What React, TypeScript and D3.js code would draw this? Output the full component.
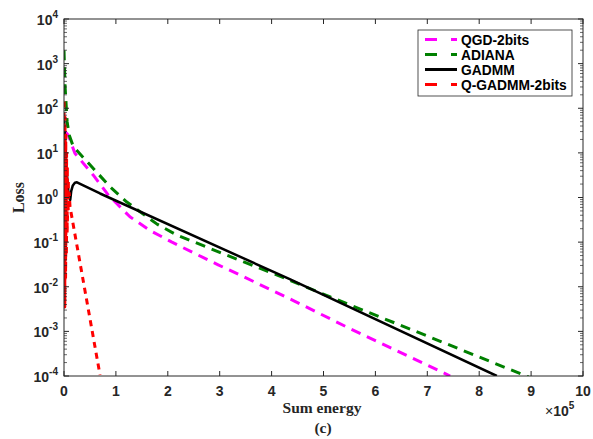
import React from "react";
import * as d3 from "d3";

// x in units of 1e5 (Sum energy), y = Loss
const qgdX = [0.02, 0.08, 0.21, 0.565, 0.855, 1.27, 1.66, 2.08, 2.53, 2.97, 3.43, 4.42, 5.5, 7.44];
const qgdY = [30, 25.1, 9.8, 3.16, 1.13, 0.37, 0.182, 0.1, 0.055, 0.031, 0.0174, 0.0049, 0.00117, 0.0001];

const adianaX = [0, 0.02, 0.06, 0.1, 0.18, 0.5, 0.887, 1.21, 1.465, 1.8, 2.17, 3.0, 4.26, 5.13, 7.25, 8.95];
const adianaY = [2000, 316, 50, 25, 13.8, 5.4, 1.74, 0.79, 0.48, 0.25, 0.145, 0.059, 0.0155, 0.0059, 0.0006, 0.000095];

const gadmmX = [0, 0.02, 0.05, 0.09, 0.12, 0.14, 0.17, 0.21, 0.25, 0.694, 4.36, 8.34];
const gadmmY = [60, 20, 3.98, 1.12, 0.89, 1.41, 1.86, 2.14, 2.19, 1.23, 0.0146, 0.0001];

const qgadmmX = [0, 0.01, 0.02, 0.015, 0.035, 0.03, 0.05, 0.045, 0.065, 0.06, 0.085, 0.08, 0.1, 0.116, 0.694];
const qgadmmY = [141, 0.01, 63, 0.0035, 25, 0.016, 10, 0.05, 5, 0.16, 2.5, 0.5, 1.26, 0.62, 0.000105];

const xTicks = [0, 1, 2, 3, 4, 5, 6, 7, 8, 9, 10];
const yExponents = [-4, -3, -2, -1, 0, 1, 2, 3, 4];

const seriesNames = ["QGD-2bits", "ADIANA", "GADMM", "Q-GADMM-2bits"];
const seriesColors = ["#ff00ff", "#008000", "#000000", "#ff0000"];
const seriesDash = ["10 7", "10 7", "none", "6 5"];

const W = 593;
const H = 439;
const L = 64;
const R = 583;
const T = 19;
const B = 376;
const axisColor = "#262626";
const sansFont = "'Liberation Sans', Arial, Helvetica, sans-serif";
const serifFont = "'Liberation Serif', 'Times New Roman', serif";

export default function App() {
  const x = d3.scaleLinear().domain([0, 10]).range([L, R]);
  const y = d3.scaleLog().domain([1e-4, 1e4]).range([B, T]);
  const line = d3
    .line<[number, number]>()
    .x((d) => x(d[0]))
    .y((d) => y(d[1]));

  const series = [
    d3.zip(qgdX, qgdY) as [number, number][],
    d3.zip(adianaX, adianaY) as [number, number][],
    d3.zip(gadmmX, gadmmY) as [number, number][],
    d3.zip(qgadmmX, qgadmmY) as [number, number][],
  ];

  const minorTicks: number[] = [];
  yExponents.slice(0, -1).forEach((e) => {
    for (let k = 2; k <= 9; k++) minorTicks.push(k * Math.pow(10, e));
  });

  const legX = 418;
  const legY = 30;
  const legW = 154;
  const legH = 66;

  return (
    <svg width={W} height={H} style={{ display: "block", position: "absolute", left: 0, top: 0 }}>
      <rect width={W} height={H} fill="#fff" />
      <defs>
        <clipPath id="plotClip">
          <rect x={L} y={T} width={R - L} height={B - T} />
        </clipPath>
      </defs>

      {/* series */}
      <g clipPath="url(#plotClip)">
        {series.map((s, i) => (
          <path
            key={i}
            d={line(s) || ""}
            fill="none"
            stroke={seriesColors[i]}
            strokeWidth={i === 2 ? 2.5 : 3}
            strokeDasharray={seriesDash[i]}
            strokeLinejoin="round"
          />
        ))}
      </g>

      {/* axes box */}
      <rect x={L} y={T} width={R - L} height={B - T} fill="none" stroke={axisColor} strokeWidth={1} />

      {/* x ticks */}
      {xTicks.map((t) => (
        <g key={"xt" + t}>
          <line x1={x(t)} x2={x(t)} y1={B} y2={B - 5} stroke={axisColor} />
          <line x1={x(t)} x2={x(t)} y1={T} y2={T + 5} stroke={axisColor} />
          <text
            x={x(t)}
            y={B + 20}
            textAnchor="middle"
            fontFamily={sansFont}
            fontWeight="bold"
            fontSize={14}
            fill={axisColor}
          >
            {t}
          </text>
        </g>
      ))}

      {/* y ticks */}
      {yExponents.map((e) => {
        const v = Math.pow(10, e);
        return (
          <g key={"yt" + e}>
            <line x1={L} x2={L + 5} y1={y(v)} y2={y(v)} stroke={axisColor} />
            <line x1={R} x2={R - 5} y1={y(v)} y2={y(v)} stroke={axisColor} />
            <text
              x={L - 6}
              y={y(v) + 6}
              textAnchor="end"
              fontFamily={sansFont}
              fontWeight="bold"
              fontSize={14}
              fill={axisColor}
            >
              10
              <tspan dy={-7} fontSize={10}>
                {e}
              </tspan>
            </text>
          </g>
        );
      })}
      {minorTicks.map((v, i) => (
        <g key={"mt" + i}>
          <line x1={L} x2={L + 3} y1={y(v)} y2={y(v)} stroke={axisColor} strokeWidth={0.7} />
          <line x1={R} x2={R - 3} y1={y(v)} y2={y(v)} stroke={axisColor} strokeWidth={0.7} />
        </g>
      ))}

      {/* axis labels */}
      <text
        x={322}
        y={413}
        textAnchor="middle"
        fontFamily={serifFont}
        fontWeight="bold"
        fontSize={15.5}
        fill={axisColor}
      >
        Sum energy
      </text>
      <text
        x={323}
        y={433}
        textAnchor="middle"
        fontFamily={serifFont}
        fontWeight="bold"
        fontSize={15.5}
        fill={axisColor}
      >
        (c)
      </text>
      <text
        transform={`translate(24, 197.5) rotate(-90)`}
        textAnchor="middle"
        fontFamily={serifFont}
        fontWeight="bold"
        fontSize={16}
        fill={axisColor}
      >
        Loss
      </text>
      <text x={545} y={416} fontFamily={sansFont} fontSize={14} fill={axisColor}>
        ×
        <tspan fontWeight="bold">10</tspan>
        <tspan dy={-7} fontSize={10} fontWeight="bold">
          5
        </tspan>
      </text>

      {/* legend */}
      <rect x={legX} y={legY} width={legW} height={legH} fill="#fff" stroke={axisColor} strokeWidth={0.8} />
      {seriesNames.map((n, i) => {
        const ry = legY + 9.5 + i * 15;
        return (
          <g key={"lg" + i}>
            <line
              x1={legX + 7}
              x2={legX + 39}
              y1={ry}
              y2={ry}
              stroke={seriesColors[i]}
              strokeWidth={3}
              strokeDasharray={i === 2 ? "none" : "12 14"}
            />
            <text
              x={legX + 43}
              y={ry + 5}
              fontFamily={sansFont}
              fontWeight="bold"
              fontSize={13.8}
              fill="#000"
            >
              {n}
            </text>
          </g>
        );
      })}
    </svg>
  );
}
